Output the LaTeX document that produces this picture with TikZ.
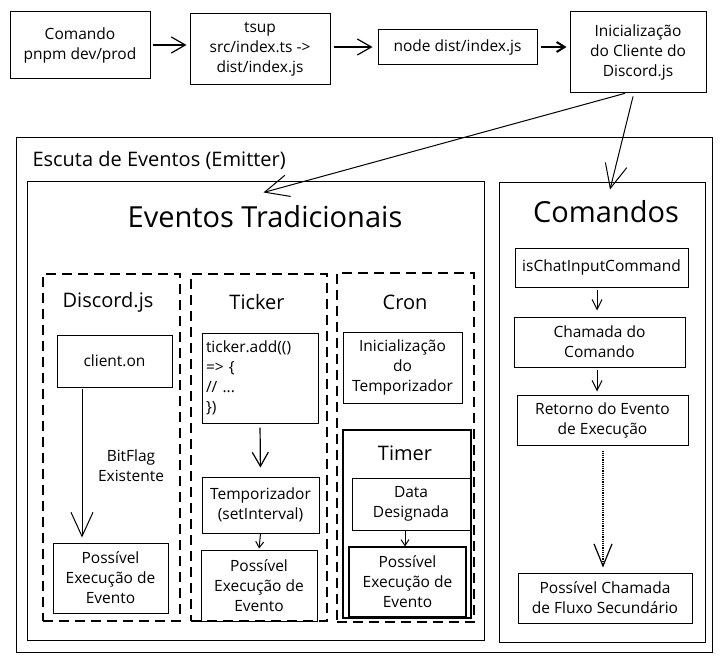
\documentclass[tikz,border=0pt]{standalone}
\usepackage{fontspec}
\setmainfont{Open Sans}
\usetikzlibrary{arrows.meta,calc}
\begin{document}
\begin{tikzpicture}[x=1pt,y=-1pt,
  box/.style={draw, line width=1pt, inner sep=0pt, align=center, font=\fontsize{15.5}{20}\selectfont},
  cont/.style={draw, line width=1pt, inner sep=0pt},
  dbox/.style={draw, line width=1.1pt, dash pattern=on 10pt off 6pt, inner sep=0pt},
  title/.style={font=\fontsize{29}{34}\selectfont},
  sect/.style={font=\fontsize{20}{24}\selectfont},
  lbl/.style={align=center, font=\fontsize{15.5}{20}\selectfont},
  arrS/.style={-{Straight Barb[length=6pt,width=8pt]}, line width=1pt},
  arrSm/.style={-{Straight Barb[length=10pt,width=10pt]}, line width=1pt},
  arrM/.style={-{Straight Barb[length=14pt,width=16pt]}, line width=1.2pt},
  arrL/.style={-{Straight Barb[length=24pt,width=22pt]}, line width=1pt},
  arrD/.style={-{Straight Barb[length=22pt,width=18pt]}, line width=1.2pt, densely dotted},
]
\useasboundingbox (0,0) rectangle (722,661);

% top row
\node[box, minimum width=140pt, minimum height=66pt] (b1) at (80,45) {Comando\\pnpm dev/prod};
\node[box, minimum width=140pt, minimum height=70pt] (b2) at (260,49) {tsup\\src/index.ts ->\\dist/index.js};
\node[box, minimum width=159pt, minimum height=34pt] (b3) at (457.5,47) {node dist/index.js};
\node[box, minimum width=136pt, minimum height=80pt] (b4) at (638,52) {Inicialização\\do Cliente do\\Discord.js};

\draw[arrM, shorten <=2pt, shorten >=3pt] (b1.east) -- (b1.east -| b2.west);
\draw[arrM, shorten <=3pt, shorten >=5pt] (b2.east |- b3.west) -- (b3.west);
\draw[-{Straight Barb[length=8pt,width=10pt]}, line width=2pt, shorten <=3pt, shorten >=3pt] (b3.east) -- (b3.east -| b4.west);

% containers
\node[cont, minimum width=696pt, minimum height=515pt] (outer) at (364,394.5) {};
\node[sect, anchor=west] (outerT) at (29,160) {Escuta de Eventos (Emitter)};
\node[cont, minimum width=457pt, minimum height=459pt] (ev) at (255.5,410.5) {};
\node[title] (evT) at (265,217) {Eventos Tradicionais};
\node[cont, minimum width=206pt, minimum height=460pt] (cmd) at (602,412) {};
\node[title] (cmdT) at (606,212) {Comandos};

\draw[arrL, shorten <=3pt] ($(b4.south)+(-10,0)$) -- ($(ev.north)+(8,12)$);
\draw[arrL, shorten <=4pt] ($(b4.south)+(-4,0)$) -- ($(cmd.north)+(8,8)$);

% dashed groups
\node[dbox, minimum width=137pt, minimum height=347pt] (dj) at (111.5,447.5) {};
\node[dbox, minimum width=136pt, minimum height=347pt] (tkb) at (259,447.5) {};
\node[dbox, minimum width=137pt, minimum height=349pt] (cr) at (405.5,447.5) {};
\node[sect] (djT) at (108,302) {Discord.js};
\node[sect] (tkT) at (257,302) {Ticker};
\node[sect] (crT) at (405,302) {Cron};

% Discord.js
\node[box, minimum width=115pt, minimum height=52pt] (cl) at (114.5,361) {client.on};
\node[box, minimum width=115pt, minimum height=70pt] (pd) at (110.5,578) {Possível\\Execução de\\Evento};
\coordinate (dx) at (82,0);
\draw[arrL, shorten <=1pt, shorten >=5pt] (cl.south -| dx) -- (pd.north -| dx);
\node[lbl] (bf) at (131,466) {BitFlag\\Existente};

% Ticker
\node[box, align=left, text width=108pt, inner xsep=4pt, minimum width=116pt, minimum height=90pt] (tk) at (260,378) {ticker.add(()\\=> \{\\// ...\\\})};
\node[box, minimum width=117pt, minimum height=56pt] (tp) at (260.5,505) {Temporizador\\(setInterval)};
\node[box, minimum width=116pt, minimum height=71pt] (tpe) at (259,585.5) {Possível\\Execução de\\Evento};
\draw[arrM, shorten <=4pt, shorten >=9pt] (tk.south) -- (tp.north);
\draw[arrS, shorten >=1pt] (tp.south) -- (tpe.north);

% Cron
\node[box, minimum width=119pt, minimum height=71pt] (ci) at (402.5,367.5) {Inicialização\\do\\Temporizador};
\node[cont, line width=1.1pt, minimum width=128pt, minimum height=188pt] (tm) at (407,524) {};
\node[sect] (tmT) at (405,453) {Timer};
\node[box, minimum width=118pt, minimum height=52pt] (dd) at (411,504) {Data\\Designada};
\node[box, line width=1.1pt, minimum width=117pt, minimum height=70pt] (tpe2) at (407.5,582) {Possível\\Execução de\\Evento};
\coordinate (cx) at (405,0);
\draw[arrS] (dd.south -| cx) -- (tpe2.north -| cx);

% Comandos
\node[box, minimum width=173pt, minimum height=39pt] (ic) at (601.5,267.5) {isChatInputCommand};
\node[box, minimum width=171pt, minimum height=50pt] (cc) at (599.5,342) {Chamada do\\Comando};
\node[box, minimum width=171pt, minimum height=50pt] (rt) at (602.5,420) {Retorno do Evento\\de Execução};
\node[box, minimum width=174pt, minimum height=50pt] (pc) at (605,598) {Possível Chamada\\de Fluxo Secundário};
\coordinate (kx) at (597,0);
\coordinate (kx2) at (603,0);
\draw[arrSm, shorten <=2pt, shorten >=6pt] (ic.south -| kx) -- (cc.north -| kx);
\draw[arrSm, shorten <=2pt, shorten >=3pt] (cc.south -| kx) -- (rt.north -| kx);
\draw[arrD, shorten <=5pt, shorten >=5pt] (rt.south -| kx2) -- (pc.north -| kx2);
\end{tikzpicture}
\end{document}
